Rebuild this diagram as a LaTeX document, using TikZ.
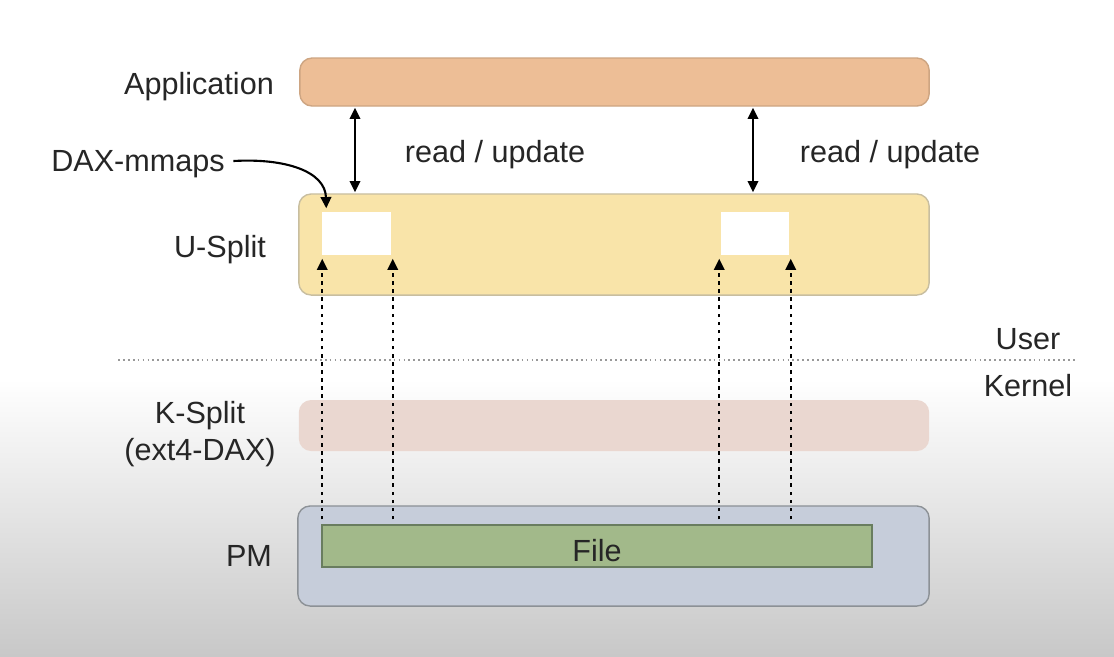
\documentclass[tikz,border=0pt]{standalone}
\usepackage{fontspec}
\setmainfont{Liberation Sans}
\usetikzlibrary{arrows.meta,calc}
\definecolor{appc}{RGB}{237,190,150}
\definecolor{appb}{RGB}{205,165,130}
\definecolor{usc}{RGB}{249,228,169}
\definecolor{usb}{RGB}{200,190,160}
\definecolor{ksc}{RGB}{234,215,208}
\definecolor{pmc}{RGB}{198,205,218}
\definecolor{pmb}{RGB}{140,145,150}
\definecolor{filec}{RGB}{162,185,138}
\definecolor{fileb}{RGB}{105,125,95}
\definecolor{bgbot}{RGB}{200,200,200}
\tikzset{
  lbl/.style={font=\fontsize{8.7}{10.5}\selectfont, text=black!85, inner sep=0pt, align=center},
  layer/.style={rectangle, rounded corners=3.5pt, line width=0.4pt, inner sep=0pt},
  winbox/.style={rectangle, fill=white, draw=none, inner sep=0pt, minimum width=0.69cm, minimum height=0.43cm},
  rw/.style={line width=0.6pt, {Triangle[length=3.2pt,width=3pt]}-{Triangle[length=3.2pt,width=3pt]}},
  maparrow/.style={line width=0.6pt, dash pattern=on 1pt off 1.3pt, -{Triangle[length=3.2pt,width=3pt]}},
  divider/.style={line width=0.5pt, black!40, dash pattern=on 0.5pt off 0.9pt},
  callout/.style={line width=0.6pt, -{Triangle[length=3.2pt,width=3pt]}}
}
\begin{document}
\begin{tikzpicture}[x=0.01cm,y=-0.01cm]
\useasboundingbox (0,0) rectangle (1114,656);
% background
\fill[white] (0,0) rectangle (1114,380);
\shade[top color=white, bottom color=bgbot] (0,379) rectangle (1114,656);

% layers
\node[layer, fill=appc, draw=appb, minimum width=6.29cm, minimum height=0.48cm] (app) at (614.5,82) {};
\node[layer, fill=usc, draw=usb, minimum width=6.30cm, minimum height=1.01cm] (us) at (614,244.5) {};
\node[winbox] (wb1) at (356.5,233.5) {};
\node[winbox, minimum width=0.68cm] (wb2) at (755,233.5) {};
\node[layer, fill=ksc, draw=none, minimum width=6.30cm, minimum height=0.51cm] (ks) at (614,425.5) {};
\node[layer, fill=pmc, draw=pmb, minimum width=6.31cm, minimum height=1.00cm] (pm) at (613.5,556) {};
\node[rectangle, fill=filec, draw=fileb, line width=0.4pt, inner sep=0pt, minimum width=5.50cm, minimum height=0.42cm] (file) at (597,546) {};
\node[lbl] (filet) at (597,551) {File};

% labels
\node[lbl] (appl) at (199,87) {Application};
\node[lbl] (daxl) at (138,164) {DAX-mmaps};
\node[lbl] (usl) at (220,250) {U-Split};
\node[lbl] (ksl) at (200,434) {K-Split\\(ext4-DAX)};
\node[lbl] (pml) at (249,556) {PM};
\node[lbl] (userl) at (1028,339) {User};
\node[lbl] (kernl) at (1028,386) {Kernel};
\node[lbl] (rw1l) at (495,155) {read / update};
\node[lbl] (rw2l) at (890,155) {read / update};

% divider
\coordinate (dL) at (118,360);
\coordinate (dR) at (1078,360);
\draw[divider] (dL) -- (dR);

% read/update arrows
\coordinate (a1) at (355,0);
\coordinate (a2) at (753,0);
\draw[rw] ($(app.south -| a1)+(0,1)$) -- ($(us.north -| a1)+(0,-1)$);
\draw[rw] ($(app.south -| a2)+(0,1)$) -- ($(us.north -| a2)+(0,-1)$);

% mapping arrows
\draw[maparrow] ($(file.north -| wb1.south west)+(1,-5)$) -- ($(wb1.south west)+(1,3)$);
\draw[maparrow] ($(file.north -| wb1.south east)+(1,-5)$) -- ($(wb1.south east)+(1,3)$);
\draw[maparrow] ($(file.north -| wb2.south west)+(-1,-5)$) -- ($(wb2.south west)+(-1,3)$);
\draw[maparrow] ($(file.north -| wb2.south east)+(1,-5)$) -- ($(wb2.south east)+(1,3)$);

% callout
\draw[callout] ($(daxl.east)+(8,-3)$) .. controls ($(daxl.east)+(60,-6)$) and ($(wb1.north west)+(4,-40)$) .. ($(wb1.north west)+(5,-3)$);
\end{tikzpicture}
\end{document}
